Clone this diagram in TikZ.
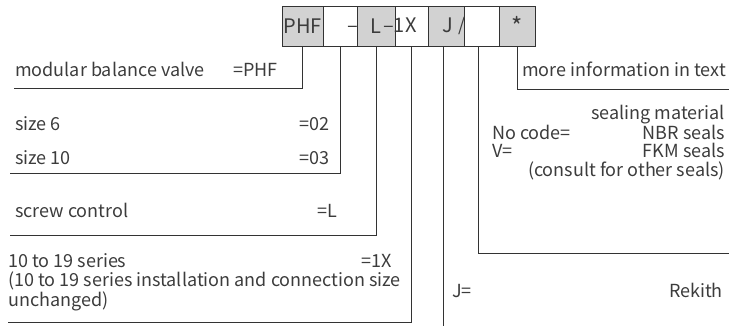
\documentclass[tikz,border=0pt]{standalone}
\usepackage{fontspec}
\setmainfont{Noto Sans CJK SC}
\usetikzlibrary{positioning}
\definecolor{ln}{HTML}{333333}
\definecolor{tx}{HTML}{3C3C3C}
\definecolor{gf}{HTML}{D2D2D2}
\tikzset{
  codebox/.style={draw=ln, line width=0.9pt, inner sep=0pt, minimum height=39.5pt, text=tx, font=\fontsize{20}{23}\selectfont},
  gbox/.style={codebox, fill=gf},
  wbox/.style={codebox, fill=white},
  stem/.style={draw=ln, line width=0.9pt},
  lbl/.style={text=tx, inner sep=0pt, font=\fontsize{18}{21}\selectfont},
  blbl/.style={text=tx, inner sep=0pt, font=\fontsize{20}{23}\selectfont},
}
\begin{document}
\begin{tikzpicture}[x=1pt,y=-1pt]
\useasboundingbox (0,0) rectangle (729,326);
% code boxes
\node[gbox, minimum width=41pt] (b1) at (302.5,26.25) {PHF};
\node[wbox, minimum width=34pt] (b2) at (340,26.25) {};
\node[gbox, minimum width=38pt] (b3) at (376,26.25) {L};
\node[wbox, minimum width=33pt] (b4) at (411.5,26.25) {};
\node[gbox, minimum width=36pt] (b5) at (446,26.25) {};
\node[wbox, minimum width=35pt] (b6) at (481.5,26.25) {};
\node[gbox, minimum width=36pt] (b7) at (517,26.25) {\fontsize{24}{24}\selectfont *};
\node[blbl, anchor=base east] (d1) at (358.5,33) {–};
\node[blbl, anchor=base west] (t4) at (383,33) {–1X};
\node[blbl, anchor=base] (t5) at (448,33) {J};
\node[lbl, anchor=base] (t6) at (462,32) {/};
% connector corner coordinates
\coordinate (c1) at (14,88);
\coordinate (c2) at (10,173);
\coordinate (c3) at (10,235);
\coordinate (c4) at (8,322);
\coordinate (c5) at (443,326);
\coordinate (c6) at (729,253);
\coordinate (c7) at (729,89);
\draw[stem] (b1.south) |- (c1);
\draw[stem] (b2.south) |- (c2);
\draw[stem] (b3.south) |- (c3);
\draw[stem] (b4.south) |- (c4);
\draw[stem] (b5.south -| c5) -- (c5);
\draw[stem] (b6.south) ++(-3,0) |- (c6);
\draw[stem] (b7.south) |- (c7);
% left labels
\node[lbl, anchor=base west] (l1) at (15,77) {modular balance valve};
\node[lbl, anchor=base west] (l1v) at (233,77) {=PHF};
\node[lbl, anchor=base west] (l2) at (15,131) {size 6};
\node[lbl, anchor=base east] (l2v) at (330,131) {=02};
\node[lbl, anchor=base west] (l3) at (15,165) {size 10};
\node[lbl, anchor=base east] (l3v) at (330,165) {=03};
\node[lbl, anchor=base west] (l4) at (15,218) {screw control};
\node[lbl, anchor=base east] (l4v) at (337,218) {=L};
\node[lbl, anchor=base west] (l5) at (8,267) {10 to 19 series};
\node[lbl, anchor=base east] (l5v) at (392,267) {=1X};
\node[lbl, anchor=base west] (l6) at (8,287) {(10 to 19 series installation and connection size};
\node[lbl, anchor=base west] (l7) at (8,306) {unchanged)};
% right labels
\node[lbl, anchor=base west] (r1) at (522,77) {more information in text};
\node[lbl, anchor=base east] (r2) at (725,120) {sealing material};
\node[lbl, anchor=base west] (r3) at (492,140) {No code=};
\node[lbl, anchor=base east] (r3v) at (725,140) {NBR seals};
\node[lbl, anchor=base west] (r4) at (492,158) {V=};
\node[lbl, anchor=base east] (r4v) at (725,158) {FKM seals};
\node[lbl, anchor=base east] (r5) at (725,177) {(consult for other seals)};
\node[lbl, anchor=base west] (r6) at (452,298) {J=};
\node[lbl, anchor=base east] (r6v) at (723,298) {Rekith};
\end{tikzpicture}
\end{document}
